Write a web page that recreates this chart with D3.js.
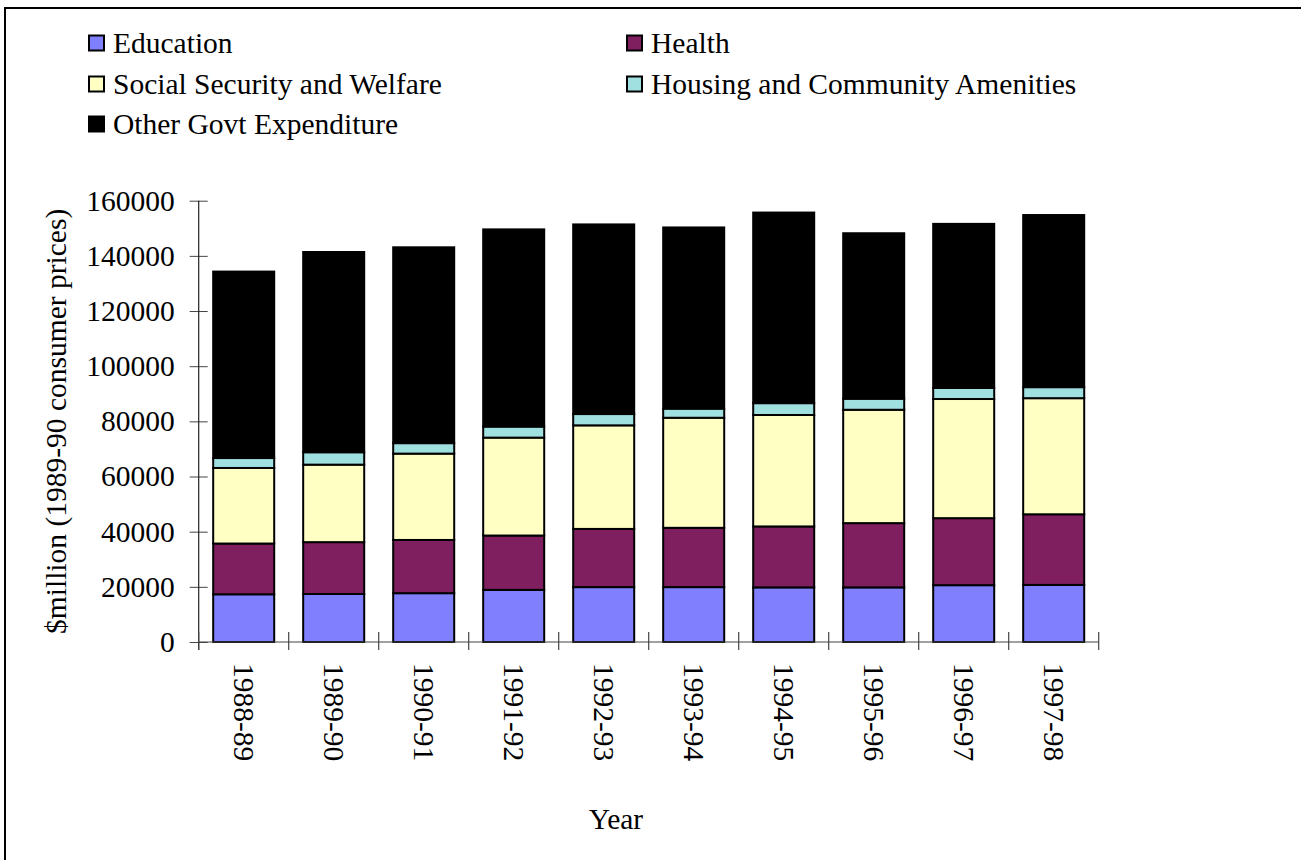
<!DOCTYPE html>
<html>
<head>
<meta charset="utf-8">
<script src="https://cdn.jsdelivr.net/npm/d3@7"></script>
<style>
  html, body { margin: 0; padding: 0; background: #fff; }
  svg { display: block; }
  text { font-family: "Liberation Serif", "Times New Roman", serif; fill: #000; }
</style>
</head>
<body>
<svg id="chart" width="1301" height="860"></svg>
<script>
// Years (financial years)
const years = ["1988-89", "1989-90", "1990-91", "1991-92", "1992-93",
               "1993-94", "1994-95", "1995-96", "1996-97", "1997-98"];

// Outlays by function, $million at 1989-90 consumer prices
const education = [17300, 17400, 17700, 18900, 19900, 19900, 19800, 19800, 20600, 20700];
const health    = [18400, 18800, 19300, 19700, 21100, 21500, 22100, 23300, 24300, 25600];
const socialSecurity = [27400, 28100, 31300, 35500, 37550, 39900, 40400, 41100, 43200, 42100];
const housing   = [3600, 4500, 3800, 4000, 4100, 3300, 4300, 4000, 4000, 4000];
const otherGovt = [67600, 72600, 71000, 71500, 68750, 65700, 69100, 60000, 59500, 62400];

const seriesNames = ["Education", "Health", "Social Security and Welfare",
                     "Housing and Community Amenities", "Other Govt Expenditure"];
const seriesColors = ["#8080ff", "#7f1f5f", "#ffffc4", "#a0e0e0", "#000000"];
const yTicks = [0, 20000, 40000, 60000, 80000, 100000, 120000, 140000, 160000];

const FONT = "29.5px";

const seriesValues = [education, health, socialSecurity, housing, otherGovt];
const keys = ["edu", "health", "ssw", "housing", "other"];
const rows = years.map((yr, i) => {
  const r = { year: yr };
  keys.forEach((k, j) => r[k] = seriesValues[j][i]);
  return r;
});

const svg = d3.select("#chart");

// outer frame
svg.append("rect")
  .attr("x", 5).attr("y", 8)
  .attr("width", 1320).attr("height", 880)
  .attr("fill", "none").attr("stroke", "#000").attr("stroke-width", 2);

const plot = { left: 198.7, right: 1098.7, top: 200.7, bottom: 642 };

const x = d3.scaleBand()
  .domain(years)
  .range([plot.left, plot.right])
  .paddingInner(0.322)
  .paddingOuter(0.161);

const y = d3.scaleLinear()
  .domain([0, 160000])
  .range([plot.bottom, plot.top]);

const stack = d3.stack().keys(keys);
const layers = stack(rows);

// stacked bars
const g = svg.append("g");
layers.forEach((layer, li) => {
  g.append("g")
    .selectAll("rect")
    .data(layer)
    .join("rect")
    .attr("x", d => x(d.data.year))
    .attr("y", d => y(d[1]))
    .attr("width", x.bandwidth())
    .attr("height", d => y(d[0]) - y(d[1]))
    .attr("fill", seriesColors[li])
    .attr("stroke", "#000")
    .attr("stroke-width", 2);
});

// y axis
const yAxis = svg.append("g")
  .attr("transform", `translate(${plot.left},0)`)
  .call(d3.axisLeft(y).tickValues(yTicks).tickFormat(d3.format("d")).tickSize(9).tickPadding(15));
yAxis.select(".domain").remove();
yAxis.selectAll(".tick line").attr("x1", -9).attr("x2", 9).attr("stroke", "#444");
yAxis.selectAll(".tick text")
  .style("font-family", "'Liberation Serif', 'Times New Roman', serif")
  .style("font-size", FONT).attr("fill", "#000");
svg.append("line")
  .attr("x1", plot.left).attr("x2", plot.left)
  .attr("y1", y(160000)).attr("y2", plot.bottom + 8)
  .attr("stroke", "#222").attr("stroke-width", 1.2);

// x axis
const xAxis = svg.append("g")
  .attr("transform", `translate(0,${plot.bottom})`)
  .call(d3.axisBottom(x).tickSize(0).tickPadding(0));
xAxis.select(".domain").remove();
xAxis.selectAll(".tick text")
  .style("font-family", "'Liberation Serif', 'Times New Roman', serif")
  .style("font-size", FONT)
  .attr("fill", "#000")
  .attr("text-anchor", "start")
  .attr("transform", "rotate(90)")
  .attr("x", 21).attr("y", 0).attr("dy", "0.33em");
svg.append("line")
  .attr("x1", plot.left).attr("x2", plot.right)
  .attr("y1", plot.bottom).attr("y2", plot.bottom)
  .attr("stroke", "#444").attr("stroke-width", 1.2);
// category separators
const bounds = d3.range(years.length + 1).map(i => x.range()[0] + i * x.step());
svg.append("g").selectAll("line")
  .data(bounds)
  .join("line")
  .attr("x1", d => d).attr("x2", d => d)
  .attr("y1", plot.bottom - 10).attr("y2", plot.bottom + 8)
  .attr("stroke", "#444").attr("stroke-width", 1.2);

// axis titles
svg.append("text")
  .attr("transform", `translate(66,${(plot.top + plot.bottom) / 2}) rotate(-90)`)
  .attr("text-anchor", "middle")
  .style("font-size", FONT)
  .text("$million (1989-90 consumer prices)");

svg.append("text")
  .attr("x", 616).attr("y", 829)
  .attr("text-anchor", "middle")
  .style("font-size", FONT)
  .text("Year");

// legend
const legendPos = [[89, 43], [627, 43], [89, 84], [627, 84], [89, 124]];
const legend = svg.append("g");
seriesNames.forEach((name, i) => {
  const [lx, ly] = legendPos[i];
  legend.append("rect")
    .attr("x", lx).attr("y", ly - 7.5)
    .attr("width", 15).attr("height", 15)
    .attr("fill", seriesColors[i])
    .attr("stroke", "#000").attr("stroke-width", 2);
  legend.append("text")
    .attr("x", lx + 24).attr("y", ly)
    .attr("dy", "0.35em")
    .style("font-size", FONT)
    .text(name);
});
</script>
</body>
</html>
